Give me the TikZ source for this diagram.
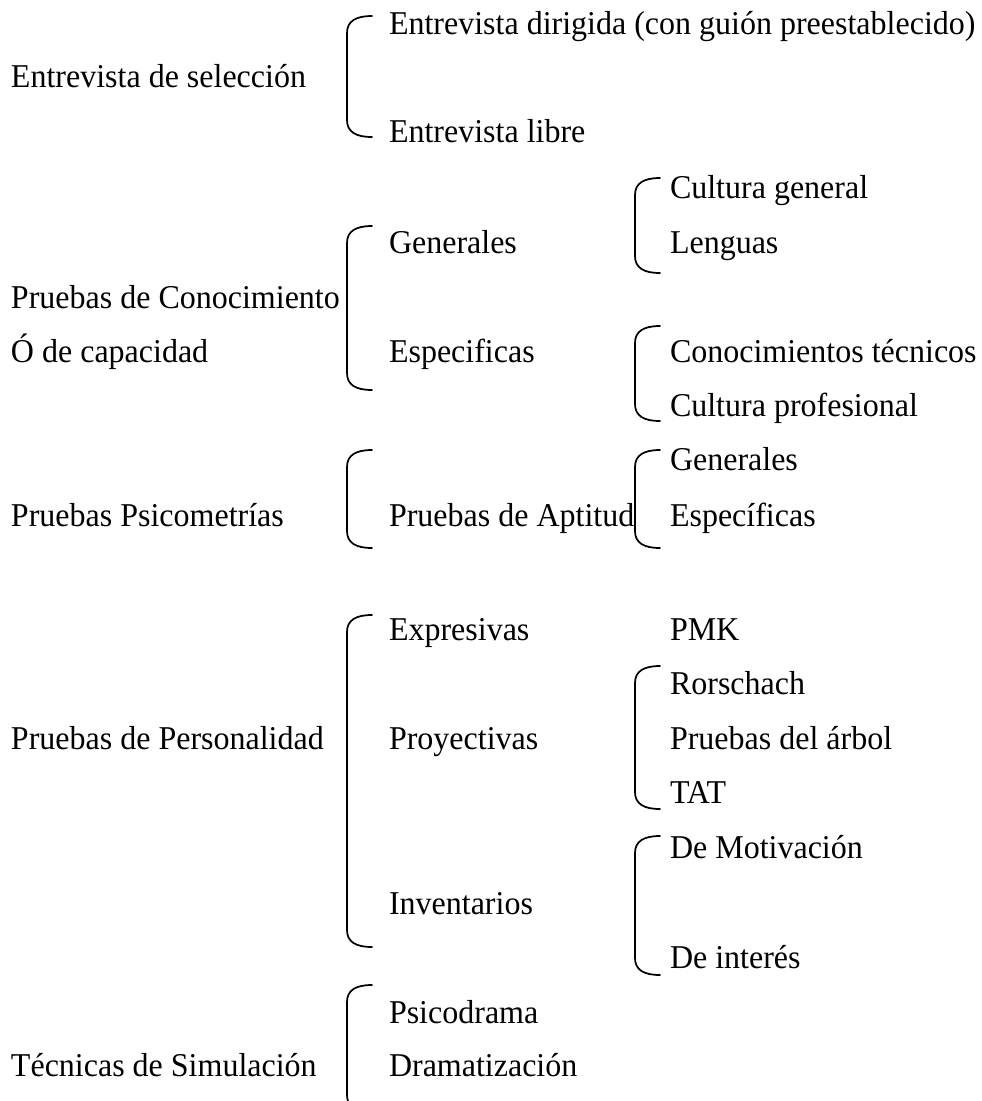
\documentclass[tikz,border=0pt]{standalone}
\usepackage{fontspec}
\setmainfont{Liberation Serif}

% Curly grouping bracket: vertical line at x=#1 from y=#2 (top) to y=#3 (bottom)
\newcommand{\groupbracket}[3]{%
  \draw[hookline] (#1+25,#2) .. controls (#1+9,#2) and (#1,#2+5) .. (#1,#2+17)
    -- (#1,#3-17) .. controls (#1,#3-5) and (#1+9,#3) .. (#1+25,#3);}

\tikzset{
  txt/.style={anchor=base west, inner sep=0pt, outer sep=0pt,
              font=\fontsize{24}{28}\selectfont, yscale=1.04},
  hookline/.style={draw=black, line width=1.3pt, line cap=round}
}

\begin{document}
\begin{tikzpicture}[x=0.75pt, y=-0.75pt]
  \useasboundingbox (0,0) rectangle (982,1101);
  \clip (0,0) rectangle (982,1101);
  \fill[white] (0,0) rectangle (982,1101);

  % first column
  \node[txt] (sel)  at (11,87)   {Entrevista de selección};
  \node[txt] (con)  at (11,308)  {Pruebas de Conocimiento};
  \node[txt] (cap)  at (11,362)  {Ó de capacidad};
  \node[txt] (psi)  at (11,526)  {Pruebas Psicometrías};
  \node[txt] (per)  at (11,749)  {Pruebas de Personalidad};
  \node[txt] (sim)  at (11,1076) {Técnicas de Simulación};

  % second column
  \node[txt] (dir)  at (389,34)   {Entrevista dirigida (con guión preestablecido)};
  \node[txt] (lib)  at (389,142)  {Entrevista libre};
  \node[txt] (gen)  at (389,253)  {Generales};
  \node[txt] (esp)  at (389,362)  {Especificas};
  \node[txt] (apt)  at (389,526)  {Pruebas de Aptitud};
  \node[txt] (exp)  at (389,640)  {Expresivas};
  \node[txt] (pro)  at (389,749)  {Proyectivas};
  \node[txt] (inv)  at (389,914)  {Inventarios};
  \node[txt] (dra)  at (389,1023) {Psicodrama};
  \node[txt] (dzn)  at (389,1076) {Dramatización};

  % third column
  \node[txt] (cul)  at (670,198) {Cultura general};
  \node[txt] (len)  at (670,253) {Lenguas};
  \node[txt] (tec)  at (670,362) {Conocimientos técnicos};
  \node[txt] (cpr)  at (670,416) {Cultura profesional};
  \node[txt] (agen) at (670,470) {Generales};
  \node[txt] (aesp) at (670,526) {Específicas};
  \node[txt] (pmk)  at (670,640) {PMK};
  \node[txt] (ror)  at (670,694) {Rorschach};
  \node[txt] (arb)  at (670,749) {Pruebas del árbol};
  \node[txt] (tat)  at (670,803) {TAT};
  \node[txt] (mot)  at (670,858) {De Motivación};
  \node[txt] (int)  at (670,968) {De interés};

  % brackets
  \groupbracket{347}{16}{137}
  \groupbracket{347}{226}{390}
  \groupbracket{635}{178}{273}
  \groupbracket{635}{326}{421}
  \groupbracket{347}{450}{548}
  \groupbracket{635}{450}{548}
  \groupbracket{347}{615}{947}
  \groupbracket{635}{666}{809}
  \groupbracket{635}{836}{975}
  \groupbracket{347}{985}{1112}
\end{tikzpicture}
\end{document}
